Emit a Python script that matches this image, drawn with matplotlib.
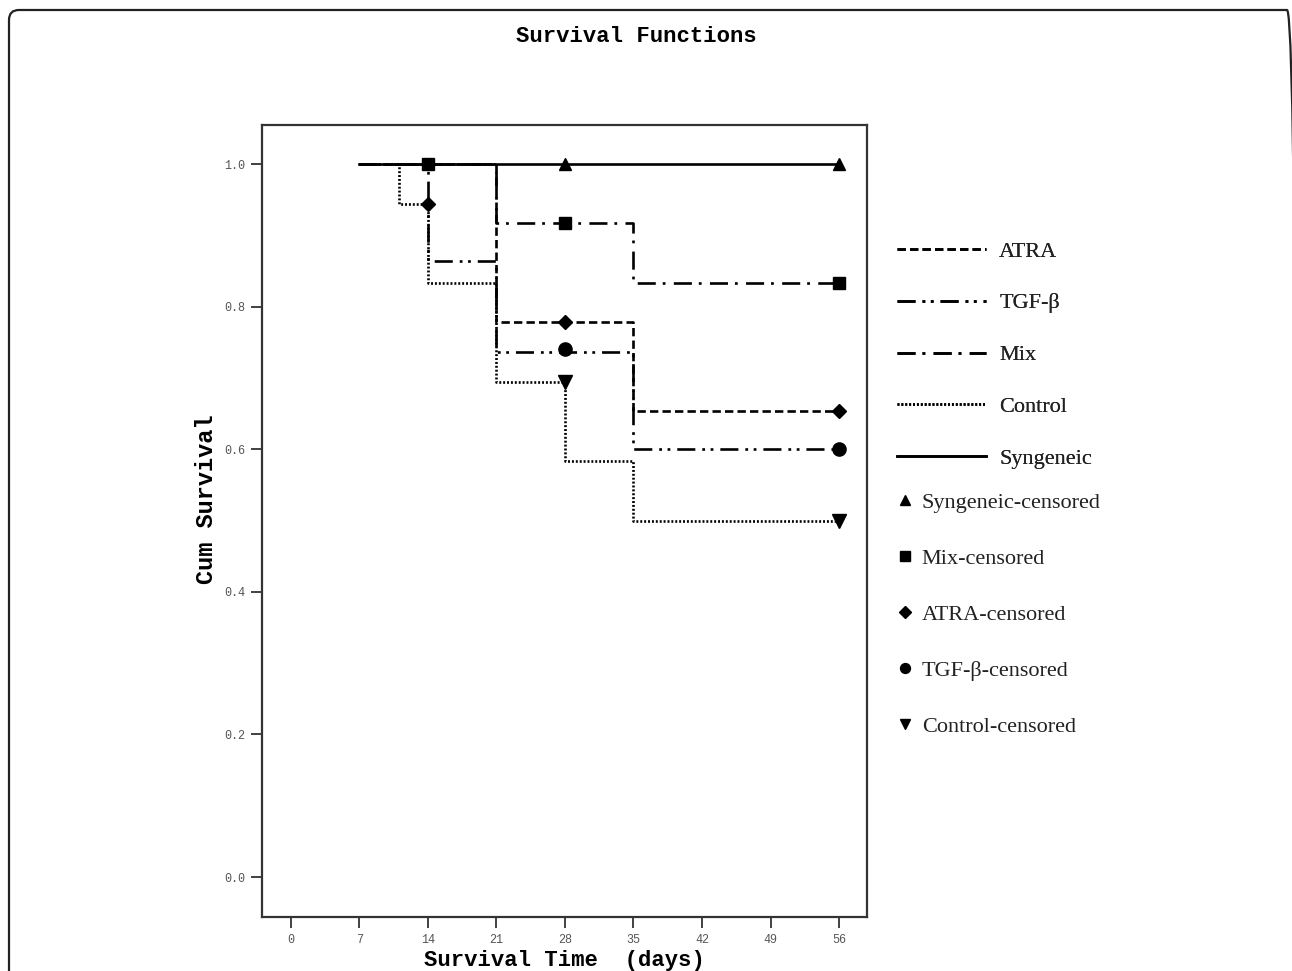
import matplotlib
matplotlib.use('Agg')
import matplotlib.pyplot as plt
from matplotlib.patches import FancyBboxPatch
from matplotlib.ticker import FormatStrFormatter

plt.rcParams['lines.scale_dashes'] = False

# Kaplan-Meier steps (days, cumulative survival)
atra_t = [7, 21, 35, 56]
atra_s = [1.0, 0.778, 0.653, 0.653]
tgf_t = [7, 14, 21, 35, 56]
tgf_s = [1.0, 0.864, 0.737, 0.601, 0.601]
mix_t = [7, 21, 35, 56]
mix_s = [1.0, 0.917, 0.833, 0.833]
ctrl_t = [7, 11, 14, 21, 28, 35, 56]
ctrl_s = [1.0, 0.944, 0.833, 0.694, 0.583, 0.5, 0.5]
syn_t = [7, 56]
syn_s = [1.0, 1.0]

# censored marks
syn_cx, syn_cy = [28, 56], [1.0, 1.0]
mix_cx, mix_cy = [14, 28, 56], [1.0, 0.917, 0.833]
atra_cx, atra_cy = [14, 28, 56], [0.944, 0.778, 0.653]
tgf_cx, tgf_cy = [28, 56], [0.74, 0.601]
ctrl_cx, ctrl_cy = [28, 56], [0.694, 0.5]

xticks = [0, 7, 14, 21, 28, 35, 42, 49, 56]
yticks = [0.0, 0.2, 0.4, 0.6, 0.8, 1.0]

mono = 'Liberation Mono'
serif = 'Liberation Serif'

fig = plt.figure(figsize=(12.92, 9.71), dpi=100)
ax = fig.add_axes([262 / 1292, 1 - 917 / 971, 605 / 1292, 792 / 971])

lw = 1.9
l_atra, = ax.step(atra_t, atra_s, where='post', color='black', lw=lw, linestyle=(0, (6, 3)))
l_tgf, = ax.step(tgf_t, tgf_s, where='post', color='black', lw=lw,
                 linestyle=(0, (13, 5, 2, 4, 2, 5)))
l_mix, = ax.step(mix_t, mix_s, where='post', color='black', lw=lw, linestyle=(0, (13, 5, 2, 6)))
l_ctrl, = ax.step(ctrl_t, ctrl_s, where='post', color='black', lw=lw, linestyle=(0, (1.4, 1.4)))
l_syn, = ax.step(syn_t, syn_s, where='post', color='black', lw=lw, linestyle='-')

m_syn, = ax.plot(syn_cx, syn_cy, '^', color='black', ms=9, linestyle='none')
m_mix, = ax.plot(mix_cx, mix_cy, 's', color='black', ms=9, linestyle='none')
m_atra, = ax.plot(atra_cx, atra_cy, 'D', color='black', ms=7.5, linestyle='none')
m_tgf, = ax.plot(tgf_cx, tgf_cy, 'o', color='black', ms=9.5, linestyle='none')
m_ctrl, = ax.plot(ctrl_cx, ctrl_cy, 'v', color='black', ms=9.5, linestyle='none')

ax.set_xlim(-2.96, 58.86)
ax.set_ylim(-0.056, 1.0547)
ax.set_xticks(xticks)
ax.set_yticks(yticks)
ax.yaxis.set_major_formatter(FormatStrFormatter('%.1f'))
ax.tick_params(direction='out', length=8, width=1.3, color='#333', labelsize=8.5,
               labelcolor='#555', pad=4)
for lab in ax.get_xticklabels() + ax.get_yticklabels():
    lab.set_family(mono)
for sp in ax.spines.values():
    sp.set_linewidth(1.6)
    sp.set_color('#333')

ax.set_xlabel('Survival Time  (days)', family=mono, fontweight='bold', fontsize=16)
ax.xaxis.set_label_coords(0.5, -0.055)
ax.xaxis.label.set_va('center')
ax.set_ylabel('Cum Survival', family=mono, fontweight='bold', fontsize=17)
ax.yaxis.set_label_coords(-0.091, 0.527)
ax.yaxis.label.set_va('center')

fig.text(636 / 1292, 1 - 37 / 971, 'Survival Functions', family=mono, fontweight='bold',
         fontsize=16, ha='center', va='center')

leg1 = fig.legend([l_atra, l_tgf, l_mix, l_ctrl, l_syn],
                  ['ATRA', 'TGF-β', 'Mix', 'Control', 'Syngeneic'],
                  loc='upper left', bbox_to_anchor=(897 / 1292, 1 - 241 / 971),
                  frameon=False, borderpad=0, borderaxespad=0,
                  prop={'family': serif, 'size': 16}, labelspacing=1.41,
                  handlelength=4.0, handletextpad=0.6, labelcolor='#222')
fig.add_artist(leg1)
fig.legend([m_syn, m_mix, m_atra, m_tgf, m_ctrl],
           ['Syngeneic-censored', 'Mix-censored', 'ATRA-censored', 'TGF-β-censored',
            'Control-censored'],
           loc='upper left', bbox_to_anchor=(896 / 1292, 1 - 492 / 971),
           frameon=False, borderpad=0, borderaxespad=0,
           prop={'family': serif, 'size': 16}, labelspacing=1.6,
           handlelength=0.8, handletextpad=0.36, markerscale=0.75, labelcolor='#222')

# rounded frame around the whole picture (right and bottom sides fall off the canvas)
frame = FancyBboxPatch((0.09, -0.5), 12.88, 9.71 - 0.10 + 0.5,
                       boxstyle='round,pad=0,rounding_size=0.1',
                       transform=fig.dpi_scale_trans, fill=False,
                       edgecolor='#222', lw=1.6, clip_on=False)
fig.patches.append(frame)

fig.savefig('out.png', dpi=100)
